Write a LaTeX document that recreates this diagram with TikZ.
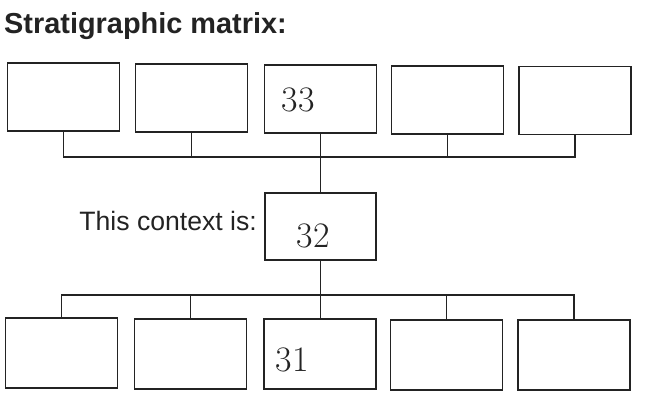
\documentclass[tikz,border=0pt]{standalone}
\usepackage{fontspec}
\setsansfont{Liberation Sans}
\usepackage{tikz}
\usetikzlibrary{positioning}
\usepackage{xcolor}
\definecolor{ColInk}{RGB}{35,35,35}
\tikzstyle{UnitBox}=[rectangle,draw=ColInk,line width=1.9pt,minimum width=112bp,
minimum height=68bp,inner sep=0pt]
\tikzstyle{Link}=[ColInk,line width=1.9pt]
\tikzstyle{Hand}=[ColInk,inner sep=0pt,font=\fontsize{36}{36}\selectfont]
\tikzstyle{Caption}=[ColInk,inner sep=0pt,font=\sffamily\fontsize{26.7}{30}\selectfont]

\begin{document}
\begin{tikzpicture}[x=1bp,y=-1bp]
        \useasboundingbox (0,0) rectangle (645,406);
        \node[Caption,anchor=base west,font=\sffamily\bfseries\fontsize{29}{32}\selectfont](title)at(4,33){Stratigraphic matrix:};
        % above
        \node[UnitBox](a1)at(63.5,97){};
        \node[UnitBox](a2)at(191.5,98){};
        \node[UnitBox](a3)at(320.5,99){};
        \node[UnitBox](a4)at(447.5,100){};
        \node[UnitBox](a5)at(575,100.5){};
        % this context
        \node[UnitBox,minimum width=111bp,minimum height=67bp](ctx)at(320.5,226.5){};
        \node[Caption,anchor=base east](ctxlabel)at(257,230){This context is:};
        % below
        \node[UnitBox,minimum height=70bp](b1)at(61.5,353){};
        \node[UnitBox,minimum height=70bp](b2)at(190.5,354){};
        \node[UnitBox,minimum height=70bp](b3)at(320,354){};
        \node[UnitBox,minimum height=70bp](b4)at(446.5,355){};
        \node[UnitBox,minimum height=70bp](b5)at(574,355){};
        % numbers
        \node[Hand](n33)at(298,100){33};
        \node[Hand](n32)at(313,236){32};
        \node[Hand](n31)at(292,360){31};
        % bus lines
        \coordinate(upbus)at(0,157);
        \coordinate(lowbus)at(0,295);
        \draw[Link](a1.south)--(a1.south|-upbus)--(a5.south|-upbus)--(a5.south);
        \draw[Link](a2.south)--(a2.south|-upbus);
        \draw[Link](a4.south)--(a4.south|-upbus);
        \draw[Link](a3.south)--(ctx.north);
        \draw[Link](ctx.south)--(ctx.south|-b3.north);
        \draw[Link](b1.north)--(b1.north|-lowbus)--(b5.north|-lowbus)--(b5.north);
        \draw[Link](b2.north)--(b2.north|-lowbus);
        \draw[Link](b4.north)--(b4.north|-lowbus);
    \end{tikzpicture}
\end{document}
